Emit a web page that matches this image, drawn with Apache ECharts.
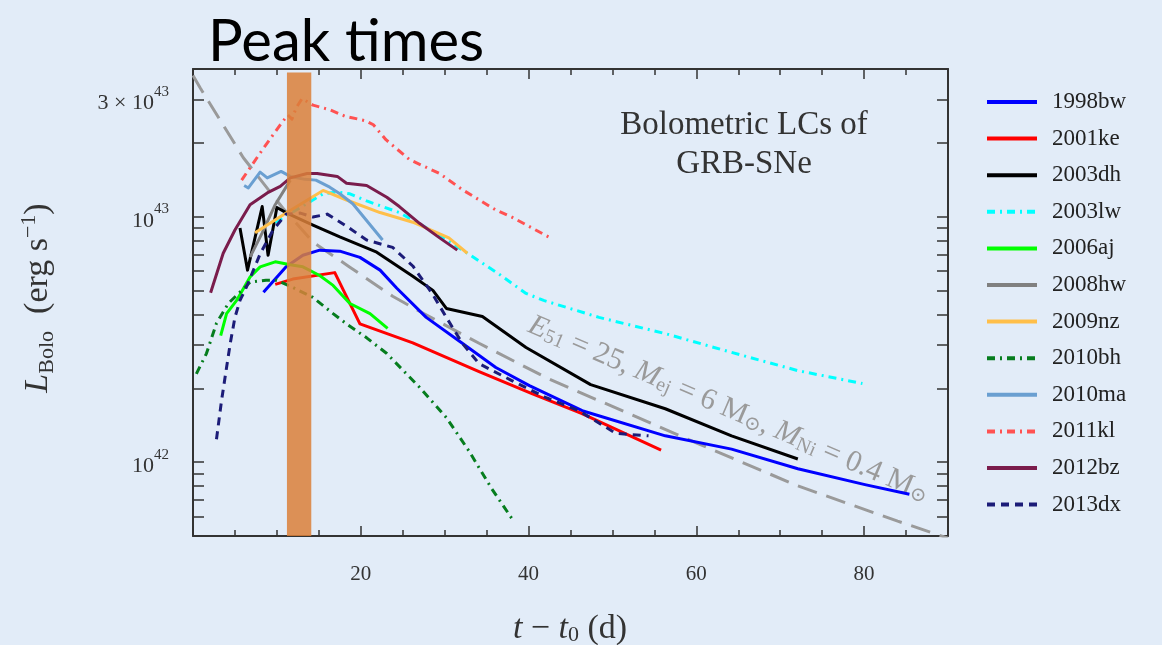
<!DOCTYPE html>
<html>
<head>
<meta charset="utf-8">
<script src="https://cdn.jsdelivr.net/npm/echarts@6/dist/echarts.min.js"></script>
<style>
  html, body { margin: 0; padding: 0; background: #e2ecf8; }
  #main { width: 1162px; height: 645px; }
</style>
</head>
<body>
<div id="main"></div>
<script>
// Bolometric light curves of GRB-SNe: [t - t0 (days), L_Bolo (erg/s)]
const sn1998bw = [[8.4,4.92e42],[11.1,6.25e42],[13.1,6.97e42],[15.1,7.31e42],[17.5,7.24e42],[19.9,6.83e42],[22.3,6.06e42],[24.3,5.11e42],[27.8,3.89e42],[32.1,3.05e42],[36.1,2.43e42],[40.1,2.05e42],[46.4,1.62e42],[56.3,1.28e42],[64.2,1.13e42],[72.1,9.4e41],[80.1,8.1e41],[85.4,7.4e41]];
const sn2001ke = [[9.8,5.30e42],[11.9,5.57e42],[16.9,5.92e42],[19.9,3.66e42],[26.2,3.06e42],[34.1,2.34e42],[40.4,1.90e42],[46.3,1.58e42],[55.8,1.12e42]];
const sn2003dh = [[5.6,8.99e42],[6.5,6.06e42],[8.25,1.10e43],[8.95,6.97e42],[10.0,1.09e43],[11.2,1.035e43],[14.3,9.25e42],[17.5,8.27e42],[21.9,7.17e42],[26.2,5.72e42],[28.6,5.01e42],[30.2,4.23e42],[34.5,3.92e42],[39.7,2.93e42],[47.4,2.07e42],[56.3,1.65e42],[64.2,1.28e42],[72.1,1.03e42]];
const sn2003lw = [[9.8,9.5e42],[12.8,1.09e43],[15.5,1.24e43],[17.2,1.26e43],[18.7,1.24e43],[20.7,1.16e43],[24.6,1.04e43],[28.5,8.75e42],[32.7,7.1e42],[36.5,5.83e42],[39.7,4.87e42],[41.8,4.56e42],[48.4,3.89e42],[56.3,3.34e42],[64.2,2.80e42],[72.1,2.36e42],[79.8,2.09e42]];
const sn2006aj = [[3.3,3.28e42],[4.0,4.03e42],[5.2,4.56e42],[6.8,5.68e42],[8.0,6.25e42],[9.8,6.55e42],[11.6,6.37e42],[13.1,6.25e42],[15.1,5.76e42],[16.7,5.25e42],[18.7,4.43e42],[21.1,4.03e42],[23.2,3.51e42]];
const sn2008hw = [[6.8,6.85e42],[8.25,8.6e42],[9.8,1.12e43],[11.6,1.41e43]];
const sn2009nz = [[7.4,8.6e42],[11.2,1.04e43],[15.5,1.28e43],[18.3,1.17e43],[22.3,1.04e43],[26.2,9.5e42],[30.5,8.2e42],[32.7,7.1e42]];
const sn2010bh = [[0.4,2.29e42],[1.6,2.77e42],[2.8,3.68e42],[4.2,4.43e42],[6.8,5.41e42],[8.7,5.51e42],[10.0,5.51e42],[11.9,5.15e42],[14.3,4.69e42],[16.7,4.03e42],[18.3,3.66e42],[20.7,3.21e42],[23.1,2.77e42],[27.0,2.02e42],[30.2,1.52e42],[32.9,1.11e42],[35.6,7.8e41],[38.0,5.9e41]];
const sn2010ma = [[6.1,1.34e43],[6.6,1.31e43],[8.0,1.52e43],[8.85,1.44e43],[10.5,1.53e43],[11.6,1.46e43],[13.35,1.42e43],[14.65,1.41e43],[16.3,1.32e43],[17.5,1.24e43],[19.05,1.13e43],[22.6,8.04e42]];
const sn2011kl = [[5.8,1.41e43],[8.25,1.87e43],[10.4,2.37e43],[11.3,2.60e43],[11.8,2.50e43],[12.3,2.78e43],[13.0,3.03e43],[14.3,2.85e43],[16.3,2.73e43],[18.1,2.57e43],[20.6,2.46e43],[21.5,2.37e43],[23.0,2.06e43],[25.8,1.71e43],[29.4,1.50e43],[32.1,1.29e43],[36.1,1.065e43],[38.0,9.97e42],[42.4,8.27e42]];
const sn2012bz = [[2.1,4.90e42],[3.6,7.10e42],[5.0,8.83e42],[6.8,1.12e43],[8.85,1.25e43],[10.4,1.33e43],[11.6,1.44e43],[13.6,1.50e43],[14.8,1.50e43],[17.2,1.46e43],[18.3,1.37e43],[20.7,1.34e43],[23.1,1.20e43],[24.6,1.10e43],[27.0,9.4e42],[29.4,8.2e42],[31.5,7.31e42]];
const sn2013dx = [[2.8,1.24e42],[3.4,1.78e42],[4.0,2.43e42],[4.45,3.06e42],[5.0,3.89e42],[5.6,4.56e42],[6.35,5.15e42],[8.0,7.05e42],[9.55,8.83e42],[11.1,1.025e43],[12.8,1.035e43],[14.3,9.97e42],[16.0,1.025e43],[18.3,9.15e42],[20.7,8.04e42],[23.8,7.5e42],[26.2,6.3e42],[28.5,4.87e42],[30.2,3.89e42],[32.1,3.05e42],[34.1,2.52e42],[38.0,2.15e42],[42.1,1.83e42],[46.0,1.62e42],[50.4,1.31e42],[54.3,1.28e42]];

// Model light curve: E51 = 25, Mej = 6 Msun, MNi = 0.4 Msun
const modelCurve = [[0,3.76e43],[0.9,3.33e43],[6.0,1.74e43],[10.7,1.085e43],[14.3,7.88e42],[18.7,6.23e42],[23.8,4.74e42],[27.0,4.12e42],[34.1,3.05e42],[42.1,2.21e42],[48.4,1.78e42],[60.2,1.19e42],[72.1,8.0e41],[84.0,5.75e41],[90,4.9e41]];

// Peak-time window (days) and its upper luminosity bound
const peakWindow = [[11.2, 14.1]];
const peakWindowTop = 3.87e43;

// Axis ranges and ticks
const xRange = [0, 90];
const yRange = [5e41, 4e43];
const xLabelValues = [20, 40, 60, 80];
const yTickValues = [6e41,7e41,8e41,9e41,1e42,2e42,3e42,4e42,5e42,6e42,7e42,8e42,9e42,1e43,2e43,3e43];
const yLabelValues = [1e42, 1e43, 3e43];

const names = ['1998bw','2001ke','2003dh','2003lw','2006aj','2008hw','2009nz','2010bh','2010ma','2011kl','2012bz','2013dx'];
const curves = [sn1998bw, sn2001ke, sn2003dh, sn2003lw, sn2006aj, sn2008hw, sn2009nz, sn2010bh, sn2010ma, sn2011kl, sn2012bz, sn2013dx];

const colors = ['#0000ff','#ff0000','#000000','#00ffff','#00ff00','#808080','#ffbf4a','#067d1e','#6a9fd1','#ff5252','#7a1c4c','#1c1c78'];
const dashDot = [8, 5, 2, 5];
const dashes = {'2003lw': dashDot, '2010bh': dashDot, '2011kl': dashDot, '2013dx': [8, 6]};

const serif = '"Liberation Serif", "DejaVu Serif", serif';

const chart = echarts.init(document.getElementById('main'));

const lineSeries = names.map((n, i) => ({
  name: n,
  type: 'line',
  data: curves[i],
  symbol: 'none',
  z: 3,
  lineStyle: { color: colors[i], width: 3, type: dashes[n] || 'solid', cap: 'butt', join: 'round' },
  itemStyle: { color: colors[i] }
}));

function yLabel(v) {
  if (Math.abs(v - 3e43) < 1e41) return '{t|3 × 10}{sup|43}';
  return '{t|10}{sup|' + Math.round(Math.log10(v)) + '}';
}

const axisLineStyle = { show: true, onZero: false, lineStyle: { color: '#333', width: 2 } };

chart.setOption({
  backgroundColor: '#e2ecf8',
  animation: false,
  title: {
    text: 'Peak times',
    left: 203, top: 8,
    textStyle: { fontFamily: 'Lato, "Open Sans", sans-serif', fontSize: 58, fontWeight: 'normal', color: '#000' }
  },
  grid: { left: 193, right: 214, top: 69, bottom: 109 },
  xAxis: [{
    type: 'value', position: 'bottom', min: xRange[0], max: xRange[1], interval: 20,
    axisLine: axisLineStyle,
    axisTick: { show: true, inside: true, length: 10, lineStyle: { color: '#333', width: 1.5 } },
    minorTick: { show: true, splitNumber: 4, length: 6, lineStyle: { color: '#333', width: 1.5 } },
    splitLine: { show: false },
    axisLabel: {
      margin: 28, color: '#333', fontFamily: serif, fontSize: 21,
      formatter: v => (xLabelValues.indexOf(v) >= 0 ? String(v) : '')
    }
  }, {
    type: 'value', position: 'top', min: xRange[0], max: xRange[1], interval: 20,
    axisLine: axisLineStyle,
    axisTick: { show: true, inside: true, length: 10, lineStyle: { color: '#333', width: 1.5 } },
    minorTick: { show: true, splitNumber: 4, length: 6, lineStyle: { color: '#333', width: 1.5 } },
    splitLine: { show: false },
    axisLabel: { show: false }
  }],
  yAxis: [{
    type: 'log', logBase: 10, position: 'left', min: yRange[0], max: yRange[1],
    axisLine: axisLineStyle,
    axisTick: { show: true, inside: true, length: 11, customValues: yTickValues, lineStyle: { color: '#333', width: 1.5 } },
    splitLine: { show: false },
    axisLabel: {
      margin: 24, customValues: yLabelValues, formatter: yLabel, color: '#333',
      rich: {
        t: { fontFamily: serif, fontSize: 22, color: '#333', verticalAlign: 'bottom', lineHeight: 30 },
        sup: { fontFamily: serif, fontSize: 15, color: '#333', verticalAlign: 'top', lineHeight: 17 }
      }
    }
  }, {
    type: 'log', logBase: 10, position: 'right', min: yRange[0], max: yRange[1],
    axisLine: axisLineStyle,
    axisTick: { show: true, inside: true, length: 11, customValues: yTickValues, lineStyle: { color: '#333', width: 1.5 } },
    splitLine: { show: false },
    axisLabel: { show: false }
  }],
  legend: {
    orient: 'vertical', left: 980, top: 85,
    data: names,
    itemWidth: 50, itemHeight: 14, itemGap: 12.6,
    itemStyle: { opacity: 0, borderWidth: 0 },
    lineStyle: { width: 4 },
    textStyle: { fontFamily: serif, fontSize: 23, color: '#222', lineHeight: 24, padding: [0, 0, 0, 10] }
  },
  series: [
    ...lineSeries,
    {
      name: 'model', type: 'line', data: modelCurve, symbol: 'none', z: 2,
      lineStyle: { color: '#9a9a9a', width: 3, type: [20, 10] }
    },
    {
      name: 'peak', type: 'custom', data: peakWindow, z: 10,
      encode: { x: [0, 1] },
      renderItem: function (params, api) {
        const p0 = api.coord([api.value(0), peakWindowTop]);
        const p1 = api.coord([api.value(1), yRange[0]]);
        return {
          type: 'rect',
          shape: { x: p0[0], y: p0[1], width: p1[0] - p0[0], height: p1[1] - p0[1] },
          style: { fill: 'rgba(219,128,58,0.85)' }
        };
      }
    }
  ],
  graphic: [
    {
      type: 'text', x: 744, y: 125,
      style: { text: 'Bolometric LCs of', font: '33px ' + serif, fill: '#333', textAlign: 'center', textVerticalAlign: 'middle' }
    },
    {
      type: 'text', x: 744, y: 164,
      style: { text: 'GRB-SNe', font: '33px ' + serif, fill: '#333', textAlign: 'center', textVerticalAlign: 'middle' }
    },
    {
      type: 'text', x: 730, y: 406, rotation: -0.405,
      style: {
        text: '{i|E}{s|51}{t| = 25, }{i|M}{s|ej}{t| = 6 M}{s|⊙}{t|, }{i|M}{s|Ni}{t| = 0.4 M}{s|⊙}',
        textAlign: 'center', textVerticalAlign: 'middle',
        rich: {
          t: { font: '30px ' + serif, fill: '#9a9a9a', verticalAlign: 'bottom', lineHeight: 37 },
          i: { font: 'italic 30px ' + serif, fill: '#9a9a9a', verticalAlign: 'bottom', lineHeight: 37 },
          s: { font: '20px ' + serif, fill: '#9a9a9a', verticalAlign: 'bottom', lineHeight: 17 }
        }
      }
    },
    {
      type: 'text', x: 570, y: 626,
      style: {
        text: '{i|t}{t| − }{i|t}{s|0}{t| (d)}',
        textAlign: 'center', textVerticalAlign: 'middle',
        rich: {
          t: { font: '34px ' + serif, fill: '#333', verticalAlign: 'bottom', lineHeight: 40 },
          i: { font: 'italic 34px ' + serif, fill: '#333', verticalAlign: 'bottom', lineHeight: 40 },
          s: { font: '22px ' + serif, fill: '#333', verticalAlign: 'bottom', lineHeight: 19 }
        }
      }
    },
    {
      type: 'text', x: 38, y: 298, rotation: Math.PI / 2,
      style: {
        text: '{i|L}{s|Bolo}{t|  (erg s}{p|−1}{t|)}',
        textAlign: 'center', textVerticalAlign: 'middle',
        rich: {
          t: { font: '34px ' + serif, fill: '#333', verticalAlign: 'middle', lineHeight: 40 },
          i: { font: 'italic 34px ' + serif, fill: '#333', verticalAlign: 'middle', lineHeight: 40 },
          s: { font: '22px ' + serif, fill: '#333', verticalAlign: 'bottom', lineHeight: 20 },
          p: { font: '22px ' + serif, fill: '#333', verticalAlign: 'top', lineHeight: 20 }
        }
      }
    }
  ]
});
</script>
</body>
</html>
